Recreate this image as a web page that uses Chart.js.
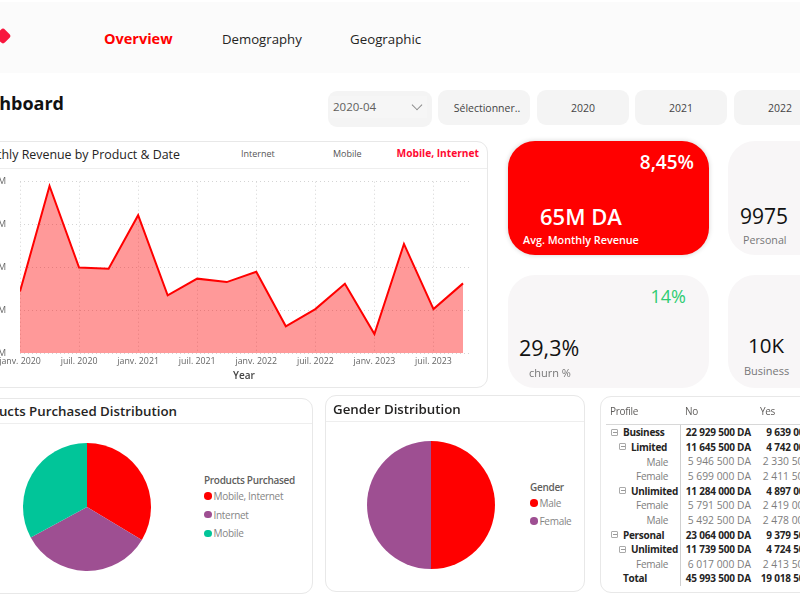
<!DOCTYPE html>
<html>
<head>
<meta charset="utf-8">
<title>Dashboard</title>
<script src="https://cdn.jsdelivr.net/npm/chart.js"></script>
<style>
  html, body { margin: 0; padding: 0; width: 800px; height: 600px; overflow: hidden; background: white; }
  body { position: relative; font-family: "Open Sans", sans-serif; color: #252423; }
  .box { position: absolute; box-sizing: border-box; }
  .t { position: absolute; white-space: nowrap; line-height: 1; }
  .tr { text-align: right; }
  .card { background: white; border: 1px solid #e8e8e8; border-radius: 11px; }
  .kpi { background: #f8f6f7; border-radius: 27px; }
  .btn { background: #f4f4f4; border-radius: 9px; font-size: 10.5px; color: #444; display: flex; align-items: center; justify-content: center; }
  .rule { position: absolute; height: 1px; background: #eeeeee; }
  canvas { position: absolute; display: block; }
  .dot { position: absolute; width: 7.5px; height: 7.5px; border-radius: 50%; }
</style>
</head>
<body>
<script>
// values
const quarters = ["janv. 2020", "avr. 2020", "juil. 2020", "oct. 2020", "janv. 2021", "avr. 2021", "juil. 2021", "oct. 2021",
  "janv. 2022", "avr. 2022", "juil. 2022", "oct. 2022", "janv. 2023", "avr. 2023", "juil. 2023", "oct. 2023"];
const revenue = [54.4, 79.0, 60.0, 59.7, 72.2, 53.5, 57.4, 56.6, 59.0, 46.3, 50.3, 56.2, 44.5, 65.5, 50.3, 56.3];
const revenueTicks = [40, 50, 60, 70, 80];

const productNames = ["Mobile, Internet", "Internet", "Mobile"];
const productShares = [33.6, 33.5, 32.9];
const productColors = ["#ff0000", "#9e4f92", "#01c599"];

const genderNames = ["Male", "Female"];
const genderShares = [50, 50];
const genderColors = ["#ff0000", "#9e4f92"];

const navItems = ["Overview", "Demography", "Geographic"];
const yearButtons = ["Sélectionner..", "2020", "2021", "2022"];
const productTabs = ["Internet", "Mobile", "Mobile, Internet"];

const tableLabels = ["Business", "Limited", "Male", "Female", "Unlimited", "Female", "Male", "Personal", "Unlimited", "Female", "Total"];
const tableIndent = [0, 1, 2, 2, 1, 2, 2, 0, 1, 2, 0];
const tableNo = ["22 929 500 DA", "11 645 500 DA", "5 946 500 DA", "5 699 000 DA", "11 284 000 DA", "5 791 500 DA", "5 492 500 DA", "23 064 000 DA", "11 739 500 DA", "6 017 000 DA", "45 993 500 DA"];
const tableYes = ["9 639 000 DA", "4 742 000 DA", "2 330 500 DA", "2 411 500 DA", "4 897 000 DA", "2 419 000 DA", "2 478 000 DA", "9 379 500 DA", "4 724 500 DA", "2 413 500 DA", "19 018 500 DA"];

// small helpers for the page furniture
function box(cls, x, y, w, h, css) {
  const el = document.createElement("div");
  el.className = "box " + cls;
  el.style.cssText = `left:${x}px;top:${y}px;width:${w}px;height:${h}px;` + (css || "");
  document.body.appendChild(el);
  return el;
}
function text(str, x, y, size, css, cls) {
  const el = document.createElement("div");
  el.className = "t " + (cls || "");
  el.textContent = str;
  el.style.cssText = `top:${y - size / 2}px;font-size:${size}px;` +
    (cls === "tr" ? `right:${800 - x}px;` : `left:${x}px;`) + (css || "");
  document.body.appendChild(el);
  return el;
}
function legend(title, names, colors, x, y, gap) {
  text(title, x, y, 10, "font-weight:600;color:#605e5c;letter-spacing:-.3px;");
  names.forEach((n, i) => {
    const cy = y + 16 + i * gap;
    const d = document.createElement("div");
    d.className = "dot";
    d.style.cssText = `left:${x}px;top:${cy - 3.75}px;background:${colors[i]};`;
    document.body.appendChild(d);
    text(n, x + 9.5, cy, 10, "color:#858585;letter-spacing:-.3px;");
  });
}
function pie(x, y, names, shares, colors) {
  const c = document.createElement("canvas");
  c.style.cssText = `left:${x - 70}px;top:${y - 70}px;width:140px;height:140px;`;
  document.body.appendChild(c);
  new Chart(c, {
    type: "pie",
    data: { labels: names, datasets: [{ data: shares, backgroundColor: colors, borderWidth: 0 }] },
    options: {
      responsive: false, animation: false, radius: 64,
      plugins: { legend: { display: false }, tooltip: { enabled: false } }
    }
  });
}

// nav bar
box("", 0, 2, 800, 71, "background:#fbfbfb;");
box("", -3, 29.5, 12, 12, "background:#f8173e;border-radius:3px;transform:rotate(45deg);");
text(navItems[0], 104, 39.5, 14.5, "font-weight:700;color:#ff0000;");
text(navItems[1], 222, 39.5, 13.2, "color:#252423;");
text(navItems[2], 350, 39.5, 13.3, "color:#252423;");

// title and slicers
text("Dashboard", 64, 103, 18, "font-weight:700;color:#111;", "tr");
box("btn", 328, 91, 104, 36);
box("", 330, 96, 97, 22, "background:#f6f6f6;");
text("2020-04", 333, 107, 11.5, "color:#605e5c;");
box("", 413, 101, 8, 8, "border-right:1px solid #888;border-bottom:1px solid #888;transform:rotate(45deg) scale(.95,.95);");
[438, 537, 635, 734].forEach((x, i) => {
  const b = box("btn", x, 90, 92, 35, i === 0 ? "padding-left:6px;" : "");
  b.textContent = yearButtons[i];
});

// line card
box("card", -20, 141, 508, 247, "border-width:1.5px;");
box("rule", 0, 168, 487, 1);
text("Monthly Revenue by Product & Date", 180, 155, 12.4, "color:#252423;", "tr");
text(productTabs[0], 241, 153.5, 9, "color:#555;");
text(productTabs[1], 333, 153.5, 9, "color:#555;");
text(productTabs[2], 479, 153.5, 10.2, "font-weight:700;color:#ff0a32;", "tr");

const lineCanvas = document.createElement("canvas");
lineCanvas.style.cssText = "left:-40px;top:170px;width:525px;height:211px;";
document.body.appendChild(lineCanvas);
new Chart(lineCanvas, {
  type: "line",
  data: {
    datasets: [{
      data: revenue.map((v, i) => ({ x: i, y: v })),
      borderColor: "#ff0000", borderWidth: 2, pointRadius: 0, tension: 0,
      backgroundColor: "rgba(255, 0, 0, 0.4)", fill: "start"
    }]
  },
  options: {
    responsive: false, animation: false,
    layout: { padding: { top: 11.7, right: 14 } },
    plugins: { legend: { display: false }, tooltip: { enabled: false } },
    scales: {
      x: {
        type: "linear", min: 0, max: 15.27,
        afterFit: s => { s.height = 27.7; s.paddingLeft = 0; s.paddingRight = 0; },
        border: { display: false, dash: [1, 3] },
        grid: { color: "#d4d4d4", lineWidth: 1, drawTicks: false },
        ticks: { stepSize: 2, includeBounds: false, maxRotation: 0, padding: 3, color: "#666", font: { size: 8.8, family: "Open Sans" },
          callback: v => quarters[v] }
      },
      y: {
        min: 40, max: 80,
        afterFit: s => { s.width = 60; s.paddingTop = 0; s.paddingBottom = 0; },
        afterBuildTicks: s => { s.ticks = revenueTicks.map(v => ({ value: v })); },
        border: { display: false, dash: [1, 3] },
        grid: { color: "#d4d4d4", lineWidth: 1, drawTicks: false },
        ticks: { padding: 14, color: "#666", font: { size: 9, family: "Open Sans" }, callback: v => v + "M" }
      }
    }
  }
});
text("Year", 233, 375, 10, "font-weight:600;color:#444;");

// KPI cards
box("", 508, 141, 201, 114, "background:#ff0000;border-radius:27px;box-shadow:0 0 5px rgba(0,0,0,.18);");
text("8,45%", 694, 162.5, 19, "font-weight:600;color:#fff;", "tr");
text("65M DA", 540, 215.5, 22, "font-weight:600;color:#fff;");
text("Avg. Monthly Revenue", 523, 240, 10.8, "font-weight:600;color:#fff;");

box("kpi", 728, 141, 120, 114);
text("9975", 740, 216, 21, "color:#111;");
text("Personal", 743, 240, 10.7, "color:#777;");

box("kpi", 508, 275, 201, 113);
text("14%", 686, 296, 18, "color:#2ecc71;", "tr");
text("29,3%", 519, 348, 21.5, "color:#111;");
text("churn %", 529, 372, 11, "color:#777;");

box("kpi", 728, 275, 120, 113);
text("10K", 748, 345, 20.5, "color:#111;");
text("Business", 744, 370, 11, "color:#777;");

// pie cards
box("card", -20, 398, 333, 196);
box("rule", 0, 423, 312, 1);
text("Products Purchased Distribution", 177, 412, 13.3, "font-weight:600;color:#252423;", "tr");
pie(86.7, 507.3, productNames, productShares, productColors);
legend("Products Purchased", productNames, productColors, 204, 480, 18.7);

box("card", 325, 395, 260, 197);
box("rule", 326, 421, 258, 1);
text("Gender Distribution", 333, 409.5, 13.3, "font-weight:600;color:#252423;");
pie(430.7, 505.3, genderNames, genderShares, genderColors);
legend("Gender", genderNames, genderColors, 530, 487, 18);

// matrix table
const labelStyle = "letter-spacing:-.3px;";
box("card", 600, 396, 240, 197);
text("Profile", 610, 411, 10, "color:#605e5c;" + labelStyle);
text("No", 685, 411, 10, "color:#605e5c;" + labelStyle);
text("Yes", 760, 411, 10, "color:#605e5c;" + labelStyle);
box("rule", 606, 424, 210, 1, "background:#d8d8d8;");
box("", 680, 425, 1, 161, "background:#d0d0d0;");
tableLabels.forEach((label, i) => {
  const y = 432.3 + i * 14.6;
  const level = tableIndent[i];
  const bold = level < 2;
  const weight = bold ? "font-weight:700;" : "";
  const isTotal = i === tableLabels.length - 1;
  const colour = bold ? "color:#252423;" : "color:#7d7d7d;";
  if (level === 2) text(label, 668, y, 10, colour + labelStyle, "tr");
  else text(label, level === 0 ? 623 : 631, y, 10, weight + colour + labelStyle);
  if (!isTotal && level < 2) {
    box("", level === 0 ? 611 : 619, y - 3.5, 7, 7, "border:1px solid #aaa;border-radius:1px;");
    box("", (level === 0 ? 612.5 : 620.5), y - 0.5, 4, 1, "background:#999;");
  }
  const numStyle = bold ? "letter-spacing:-.2px;" : "";
  const numSize = bold ? 10 : 10.3;
  text(tableNo[i], 751, y, numSize, weight + colour + numStyle, "tr");
  text(tableYes[i], 826, y, numSize, weight + colour + numStyle, "tr");
});
</script>
</body>
</html>
